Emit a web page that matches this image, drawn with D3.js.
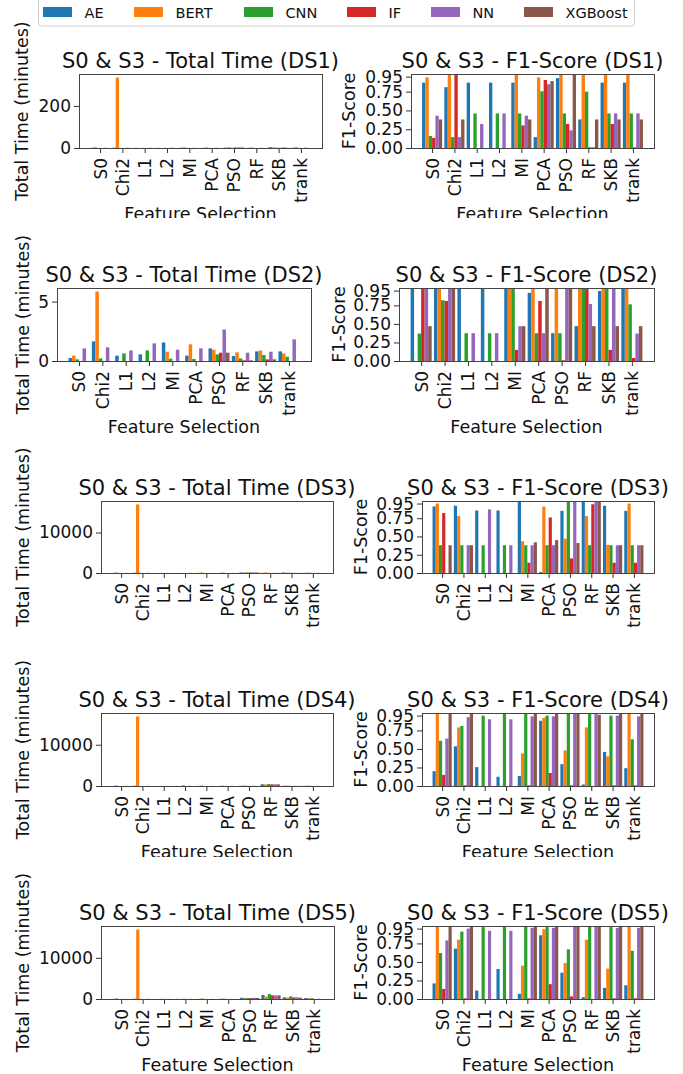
<!DOCTYPE html>
<meta charset="utf-8">
<script src="https://d3js.org/d3.v7.min.js"></script>
<style>
  body { margin: 0; background: #fff; }
</style>
<div id="my_dataviz"></div>
<script>

// categories and series
var methods = ["S0", "Chi2", "L1", "L2", "MI", "PCA", "PSO", "RF", "SKB", "trank"];
var models = ["AE", "BERT", "CNN", "IF", "NN", "XGBoost"];
var colors = ["#1f77b4", "#ff7f0e", "#2ca02c", "#d62728", "#9467bd", "#8c564b"];

// total time (minutes), one row per model, one value per method
var timeDS1 = [
  [0.8, 1.5, 0.5, 0.6, 1.2, 0.6, 1.4, 0.8, 4.0, 1.0],
  [4.0, 335, 0, 0, 3.0, 3.0, 4.0, 3.0, 3.0, 4.0],
  [0.3, 0.5, 0.8, 1.0, 0.4, 0.3, 1.0, 0.4, 1.0, 0.6],
  [0, 0, 0, 0, 0, 0, 2.5, 0.2, 1.0, 0],
  [1.2, 1.3, 1.0, 1.5, 1.1, 1.2, 3.0, 0.9, 3.0, 1.8],
  [0, 0, 0, 0, 0, 0, 2.5, 0.2, 1.0, 0]
];
var timeDS2 = [
  [0.25, 1.65, 0.45, 0.56, 1.56, 0.45, 1.06, 0.42, 0.81, 0.81],
  [0.45, 5.85, 0, 0, 0.78, 1.4, 0.95, 0.73, 0.89, 0.64],
  [0.14, 0.22, 0.64, 0.89, 0.2, 0.17, 0.56, 0.22, 0.5, 0.36],
  [0, 0, 0, 0, 0, 0, 0.7, 0.06, 0.14, 0],
  [1.06, 1.15, 0.89, 1.48, 0.95, 1.06, 2.65, 0.7, 0.78, 1.82],
  [0, 0, 0, 0, 0, 0, 0.7, 0.06, 0.14, 0]
];
var timeDS3 = [
  [20, 60, 10, 10, 30, 20, 150, 40, 120, 30],
  [150, 16950, 0, 0, 120, 110, 160, 130, 100, 120],
  [10, 20, 20, 20, 10, 10, 140, 20, 60, 20],
  [0, 0, 0, 0, 0, 0, 130, 10, 20, 0],
  [30, 40, 30, 40, 30, 30, 160, 40, 40, 40],
  [0, 0, 0, 0, 0, 0, 130, 10, 20, 0]
];
var timeDS4 = [
  [20, 60, 10, 20, 30, 20, 60, 420, 60, 30],
  [150, 16860, 0, 0, 120, 110, 130, 380, 100, 120],
  [10, 20, 40, 160, 10, 10, 40, 460, 50, 20],
  [0, 0, 0, 0, 0, 0, 20, 400, 20, 0],
  [30, 40, 30, 40, 30, 30, 60, 420, 40, 40],
  [0, 0, 0, 0, 0, 0, 20, 400, 20, 0]
];
var timeDS5 = [
  [20, 60, 10, 20, 30, 30, 300, 970, 400, 240],
  [180, 16900, 0, 0, 150, 130, 280, 560, 320, 220],
  [10, 20, 40, 60, 10, 10, 260, 1200, 650, 200],
  [0, 0, 0, 0, 0, 0, 250, 890, 400, 0],
  [30, 40, 30, 40, 30, 30, 300, 890, 400, 60],
  [0, 0, 0, 0, 0, 0, 250, 890, 320, 0]
];

// F1-score, one row per model
var f1DS1 = [
  [0.87, 0.81, 0.87, 0.87, 0.87, 0.145, 0.93, 0.38, 0.87, 0.87],
  [0.94, 1.0, 0, 0, 1.0, 0.94, 0.98, 1.0, 1.0, 1.0],
  [0.16, 0.145, 0.46, 0.46, 0.46, 0.755, 0.46, 0.75, 0.46, 0.46],
  [0.135, 1.0, 0, 0, 0.30, 0.905, 0.32, 0.01, 0.32, 0.01],
  [0.43, 0.145, 0.32, 0.46, 0.43, 0.85, 0.235, 0.01, 0.46, 0.46],
  [0.38, 0.38, 0, 0, 0.38, 0.89, 1.0, 0.38, 0.38, 0.38]
];
var f1DS2 = [
  [1.0, 1.0, 1.0, 1.0, 1.0, 0.92, 0.375, 0.47, 0.945, 1.0],
  [0, 1.0, 0, 0, 1.0, 1.0, 1.0, 1.0, 1.0, 1.0],
  [0.37, 0.82, 0.375, 0.375, 1.0, 0.375, 0.375, 1.0, 1.0, 0.765],
  [1.0, 0.81, 0, 0, 0.15, 0.81, 0.01, 1.0, 0.15, 0.04],
  [1.0, 1.0, 0.375, 0.375, 0.47, 0.375, 1.0, 0.77, 1.0, 0.37],
  [0.47, 1.0, 0, 0, 0.47, 1.0, 1.0, 0.47, 0.47, 0.47]
];
var f1DS3 = [
  [0.91, 0.92, 0.855, 0.855, 1.0, 0.013, 0.85, 1.0, 0.92, 0.85],
  [0.95, 0.78, 0, 0, 0.435, 0.91, 0.47, 0.78, 0.385, 0.95],
  [0.38, 0.38, 0.38, 0.38, 0.38, 0.38, 1.0, 0.38, 0.38, 0.38],
  [0.82, 0, 0, 0, 0.14, 0.76, 0.2, 0.94, 0.14, 0.14],
  [0, 0.38, 0.87, 0.38, 0.38, 0.38, 1.0, 1.0, 0.38, 0.38],
  [0.38, 0.38, 0, 0, 0.42, 0.45, 0.41, 1.0, 0.38, 0.38]
];
var f1DS4 = [
  [0.2, 0.535, 0.255, 0.125, 0.134, 0.88, 0.295, 0.02, 0.46, 0.24],
  [1.0, 0.79, 0, 0, 0.44, 0.92, 0.48, 0.79, 0.40, 1.0],
  [0.61, 0.81, 0.95, 0.98, 1.0, 0.95, 1.0, 1.0, 0.95, 0.63],
  [0.15, 0.01, 0, 0, 0.01, 0.175, 0.01, 0, 0.01, 0.01],
  [0.64, 0.93, 0.9, 0.9, 0.94, 0.94, 1.0, 1.0, 0.95, 0.94],
  [1.0, 1.0, 0, 0, 1.0, 1.0, 1.0, 0.96, 1.0, 1.0]
];
var f1DS5 = [
  [0.21, 0.68, 0.115, 0.405, 0.07, 0.86, 0.355, 0.025, 0.15, 0.185],
  [1.0, 0.80, 0, 0, 0.45, 0.94, 0.485, 0.80, 0.41, 1.0],
  [0.62, 0.91, 0.97, 0.98, 1.0, 0.97, 0.67, 1.0, 0.97, 0.65],
  [0.136, 0.01, 0, 0, 0.01, 0.2, 0.035, 0, 0.01, 0.01],
  [0.79, 0.95, 0.92, 0.92, 0.96, 0.96, 1.0, 1.0, 0.96, 0.96],
  [1.0, 1.0, 0, 0, 1.0, 1.0, 1.0, 0.98, 1.0, 1.0]
];

// tick labels
var timeTicksDS1 = [0, 200];
var timeTicksDS2 = [0, 5];
var timeTicksBig = [0, 10000];
var f1Ticks = [0, 0.25, 0.5, 0.75, 0.95];

var font = "DejaVu Sans";

// each dataset was its own figure, stacked and cropped
var rows = [
  {ds: "DS1", time: timeDS1, f1: f1DS1, ticks: timeTicksDS1, clip: [0, 218], L: [79, 322], R: [411, 654], top: 74, bot: 148, labL: 22, labR: 349},
  {ds: "DS2", time: timeDS2, f1: f1DS2, ticks: timeTicksDS2, clip: [218, 433], L: [57, 311], R: [399, 654], top: 288, bot: 361, labL: 23, labR: 339},
  {ds: "DS3", time: timeDS3, f1: f1DS3, ticks: timeTicksBig, clip: [433, 631], L: [101, 333], R: [422, 654], top: 501, bot: 573, labL: 23, labR: 361},
  {ds: "DS4", time: timeDS4, f1: f1DS4, ticks: timeTicksBig, clip: [631, 857], L: [101, 333], R: [422, 654], top: 713, bot: 786, labL: 23, labR: 361},
  {ds: "DS5", time: timeDS5, f1: f1DS5, ticks: timeTicksBig, clip: [857, 1074], L: [101, 334], R: [422, 654], top: 926, bot: 999, labL: 23, labR: 361}
];

var svg = d3.select("#my_dataviz")
  .append("svg")
    .attr("width", 683)
    .attr("height", 1074)
    .style("display", "block")
    .style("background", "#fff");

var bw = 0.15;

function drawPanel(g, x0, x1, y0, y1, series, yMax, tickVals, fmt, title, ylab, labX) {
  var x = d3.scaleLinear().domain([-0.57, 10.32]).range([x0, x1]);
  var y = d3.scaleLinear().domain([0, yMax]).range([y1, y0]).clamp(true);

  // bars, one group per model
  series.forEach(function(vals, k) {
    g.append("g").selectAll("rect")
      .data(vals)
      .enter()
      .append("rect")
        .attr("x", function(d, i) { return x(i + k * bw - bw / 2); })
        .attr("width", x(bw) - x(0))
        .attr("y", function(d) { return y(d); })
        .attr("height", function(d) { return y(0) - y(d); })
        .style("fill", colors[k]);
  });

  // y axis
  var ya = g.append("g")
    .attr("transform", "translate(" + x0 + ",0)")
    .call(d3.axisLeft(y).tickValues(tickVals).tickFormat(fmt).tickSize(5).tickPadding(3));
  ya.select(".domain").remove();
  ya.attr("font-size", 17).attr("font-family", font);
  ya.selectAll("line").style("stroke", "#333");
  ya.selectAll("text").style("fill", "#111");

  // x axis with rotated labels
  var xa = g.append("g")
    .attr("transform", "translate(0," + y1 + ")")
    .call(d3.axisBottom(x)
      .tickValues(methods.map(function(d, i) { return i + 2.5 * bw; }))
      .tickFormat(function(d, i) { return methods[i]; })
      .tickSize(5));
  xa.select(".domain").remove();
  xa.attr("font-size", 17).attr("font-family", font);
  xa.selectAll("line").style("stroke", "#333");
  xa.selectAll("text")
    .attr("transform", "rotate(-90)")
    .attr("x", -10)
    .attr("y", 0)
    .attr("dy", "0.35em")
    .style("text-anchor", "end")
    .style("fill", "#111");

  // frame
  g.append("rect")
    .attr("x", x0 + 0.5)
    .attr("y", y0 + 0.5)
    .attr("width", x1 - x0)
    .attr("height", y1 - y0)
    .style("fill", "none")
    .style("stroke", "#444")
    .style("stroke-width", 1);

  // title
  g.append("text")
    .attr("x", (x0 + x1) / 2)
    .attr("y", y0 - 6)
    .style("text-anchor", "middle")
    .style("font-family", font)
    .style("font-size", "21px")
    .style("fill", "#111")
    .text(title);

  // x label
  g.append("text")
    .attr("x", (x0 + x1) / 2)
    .attr("y", y1 + 71.5)
    .style("text-anchor", "middle")
    .style("font-family", font)
    .style("font-size", "17.5px")
    .style("fill", "#111")
    .text("Feature Selection");

  // y label
  g.append("text")
    .attr("transform", "translate(" + labX + "," + ((y0 + y1) / 2) + ") rotate(-90)")
    .attr("dy", "0.35em")
    .style("text-anchor", "middle")
    .style("font-family", font)
    .style("font-size", "17.5px")
    .style("fill", "#111")
    .text(ylab);
}

rows.forEach(function(r, ri) {
  svg.append("clipPath")
    .attr("id", "clip" + ri)
    .append("rect")
      .attr("x", 0)
      .attr("y", r.clip[0])
      .attr("width", 683)
      .attr("height", r.clip[1] - r.clip[0]);

  var g = svg.append("g").attr("clip-path", "url(#clip" + ri + ")");

  var tmax = d3.max(r.time, function(s) { return d3.max(s); }) * 1.05;
  drawPanel(g, r.L[0], r.L[1], r.top, r.bot, r.time, tmax, r.ticks, d3.format("d"),
    "S0 & S3 - Total Time (" + r.ds + ")", "Total Time (minutes)", r.labL);
  drawPanel(g, r.R[0], r.R[1], r.top, r.bot, r.f1, 0.985, f1Ticks, d3.format(".2f"),
    "S0 & S3 - F1-Score (" + r.ds + ")", "F1-Score", r.labR);
});

// Handmade legend at the top
var lg = svg.append("g");
lg.append("rect")
  .attr("x", 38.5).attr("y", -10)
  .attr("width", 596).attr("height", 36)
  .attr("rx", 3)
  .style("fill", "#fff")
  .style("stroke", "#d0d0d0");
var legX = [43, 134, 244, 347, 431, 524];
models.forEach(function(m, k) {
  lg.append("rect").attr("x", legX[k]).attr("y", 7).attr("width", 29).attr("height", 10).style("fill", colors[k]);
  lg.append("text").attr("x", legX[k] + 41.5).attr("y", 17.5)
    .style("font-family", font).style("font-size", "14.5px").style("fill", "#111")
    .text(m);
});

</script>
